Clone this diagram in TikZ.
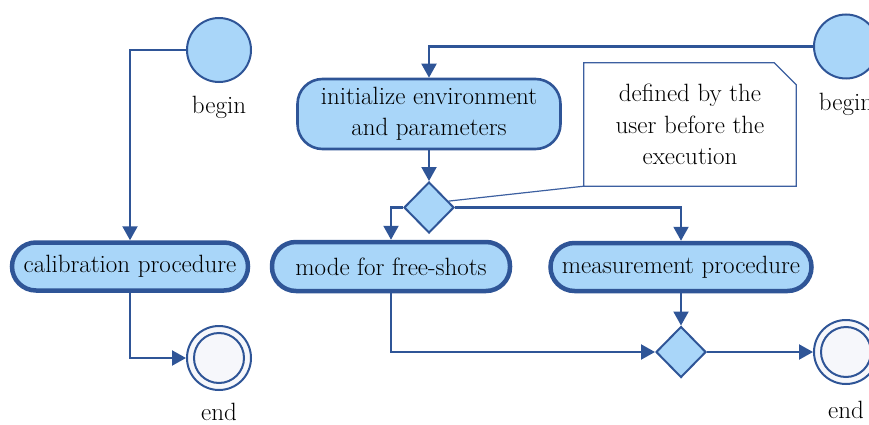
\documentclass[tikz,border=0pt]{standalone}
\usetikzlibrary{shapes.geometric,arrows.meta}
\definecolor{actfill}{RGB}{169,214,249}
\definecolor{actline}{RGB}{47,85,151}
\definecolor{endfill}{RGB}{246,247,251}
\definecolor{noteline}{RGB}{60,95,160}
\tikzset{
  txt/.style={font=\fontsize{25}{31.5}\selectfont, text=black, align=center, inner sep=0pt},
  startnode/.style={circle, draw=actline, fill=actfill, line width=2pt, minimum size=64, inner sep=0pt},
  action/.style={txt, rectangle, rounded corners=25, draw=actline, fill=actfill, line width=2.6pt},
  bigaction/.style={txt, rectangle, rounded corners=24, draw=actline, fill=actfill, line width=4.5pt},
  choice/.style={diamond, draw=actline, fill=actfill, line width=2pt, minimum width=50, minimum height=51, inner sep=0pt},
  flow/.style={draw=actline, line width=2.1pt, -{Triangle[length=14pt,width=15pt]}},
  link/.style={draw=noteline, line width=1.2pt},
}
\begin{document}
\begin{tikzpicture}[x=1pt, y=-1pt]
\useasboundingbox (0,0) rectangle (869,425);
\clip (0,0) rectangle (869,425);

% calibration branch
\node[startnode] (b1) at (219,50) {};
\node[txt] (b1lab) at (219,107) {begin};
\node[bigaction, minimum width=236, minimum height=48] (calib) at (130,266.5) {calibration procedure};
\node[startnode, fill=endfill] (e1) at (219,358) {};
\draw[actline, line width=2pt] (e1.center) circle (25);
\node[txt] (e1lab) at (219,412) {end};

\draw[flow] (b1.west) -| (calib.north);
\draw[flow] (calib.south) |- (e1.west);

% measurement branch
\node[startnode] (b2) at (846,46.5) {};
\node[txt] (b2lab) at (846,104) {begin};
\node[action, minimum width=263, minimum height=70] (init) at (429,114) {initialize environment\\and parameters};
\node[choice] (d1) at (429,207.5) {};
\node[bigaction, minimum width=238, minimum height=49] (mode) at (391,266.5) {mode for free-shots};
\node[bigaction, minimum width=261, minimum height=48] (meas) at (681,267) {measurement procedure};
\node[choice] (d2) at (681,352) {};
\node[startnode, fill=endfill] (e2) at (846,352) {};
\draw[actline, line width=2pt] (e2.center) circle (25);
\node[txt] (e2lab) at (846,410) {end};

% note attached to the first decision
\node[txt, minimum width=212, minimum height=123] (note) at (690,124.5) {};
\draw[link, fill=white] (note.south west) -- (note.north west) -- ([xshift=-22pt]note.north east)
  -- ([yshift=-22pt]note.north east) -- (note.south east) -- cycle;
\node[txt] (notetext) at (note.center) {defined by the\\user before the\\execution};
\draw[link] (d1.18) -- (note.south west);

\draw[flow] (b2.west) -| (init.north);
\draw[flow] (init.south) -- (d1.north);
\draw[flow] (d1.west) -| (mode.north);
\draw[flow] (d1.east) -| (meas.north);
\draw[flow] (mode.south) |- (d2.west);
\draw[flow] (meas.south) -- (d2.north);
\draw[flow] (d2.east) -- (e2.west);
\end{tikzpicture}
\end{document}
